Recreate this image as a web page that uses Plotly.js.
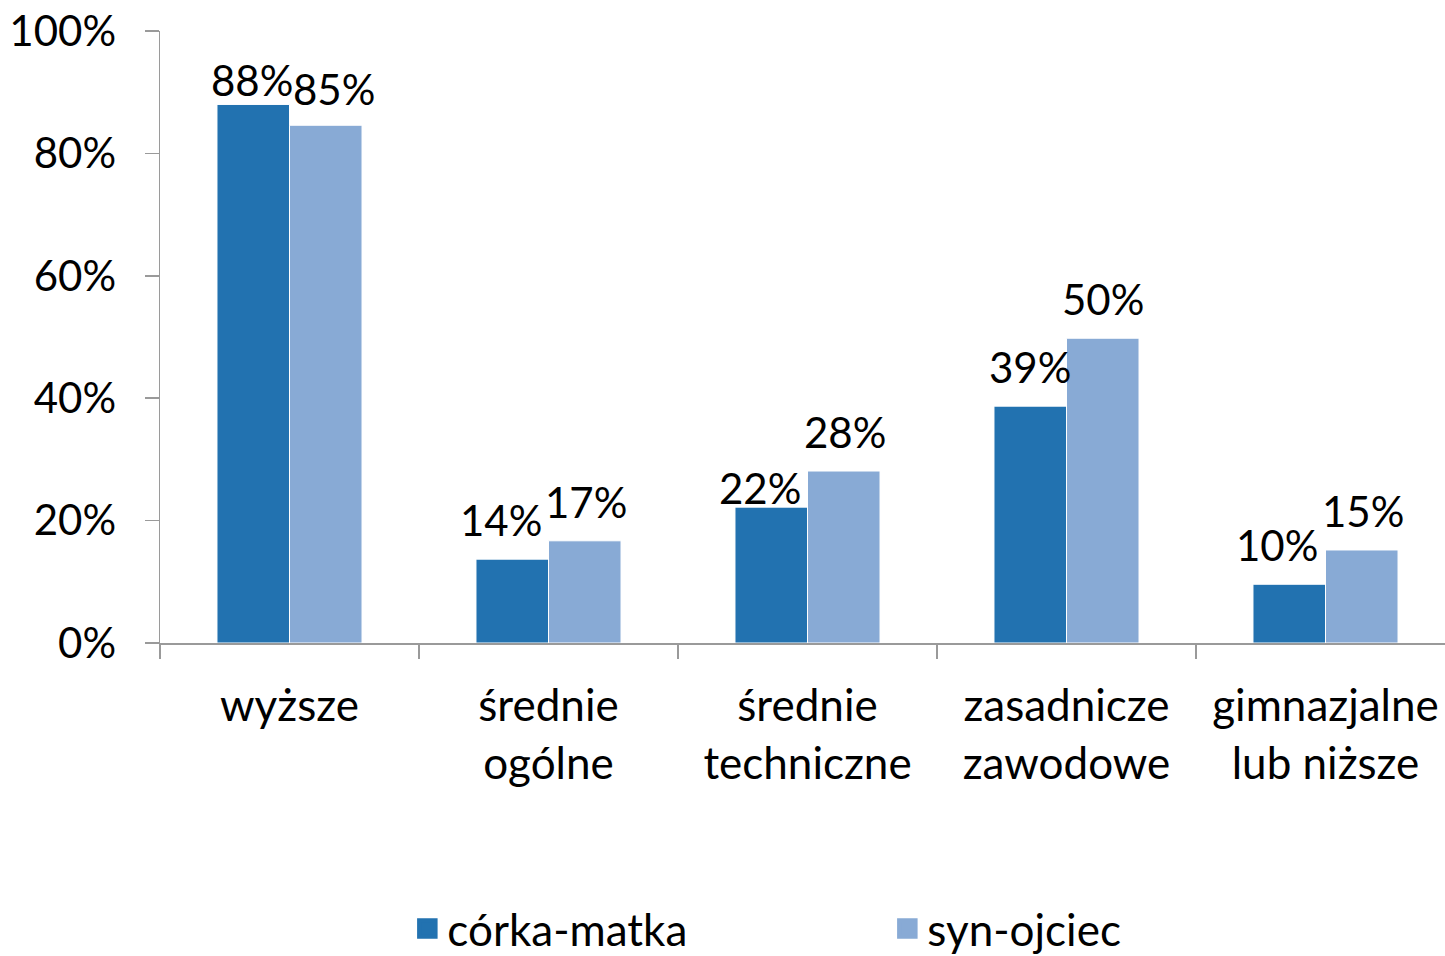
<!DOCTYPE html>
<html>
<head>
<meta charset="utf-8">
<script src="https://cdn.plot.ly/plotly-3.0.1.min.js"></script>
<style>
html,body{margin:0;padding:0;overflow:hidden;background:#ffffff;}
#chart{width:1460px;height:990px;}
</style>
</head>
<body>
<div id="chart"></div>
<script>
const categories = ["wyższe", "średnie<br>ogólne", "średnie<br>techniczne", "zasadnicze<br>zawodowe", "gimnazjalne<br>lub niższe"];
const corkaMatka = [88, 13.7, 22.2, 38.7, 9.6];
const synOjciec = [84.6, 16.7, 28.1, 49.8, 15.2];
const seriesNames = ["córka-matka", "syn-ojciec"];
const seriesColors = ["#2272B0", "#88AAD5"];
const yTickVals = [0, 20, 40, 60, 80, 100];
const yTickText = ["0%", "20%", "40%", "60%", "80%", "100%"];

// label placement style (pixel nudges that mimic the original's overlap avoidance)
const labelNudgeX = [[-2, -12, -12, -1, -13], [8, 1, 1, 0, 1]];
const labelNudgeY = [[-15, 0, -20, 0, 0], [-3, 0, 0, 0, 0]];

const FONT = "Lato, 'Open Sans', sans-serif";
const BAR_HALF_OFFSET = 36;
const LABEL_RISE = 39;

function barTrace(name, values, color) {
  return {
    type: "bar",
    name: name,
    x: categories,
    y: values,
    marker: {color: color, line: {color: "#ffffff", width: 1}},
    showlegend: false,
    hoverinfo: "skip"
  };
}

function legendTrace(name, color) {
  return {
    type: "scatter",
    mode: "markers",
    name: name,
    x: [null],
    y: [null],
    marker: {symbol: "square", size: 16, color: color, line: {color: color, width: 4.5}},
    showlegend: true,
    hoverinfo: "skip"
  };
}

const data = [
  barTrace(seriesNames[0], corkaMatka, seriesColors[0]),
  barTrace(seriesNames[1], synOjciec, seriesColors[1]),
  legendTrace(seriesNames[0], seriesColors[0]),
  legendTrace(seriesNames[1], seriesColors[1])
];

const annotations = [];
[corkaMatka, synOjciec].forEach(function (vals, s) {
  vals.forEach(function (v, j) {
    annotations.push({
      xref: "x", yref: "y",
      x: categories[j], y: v,
      text: Math.round(v) + "%",
      showarrow: false,
      xanchor: "center", yanchor: "middle",
      xshift: (s === 0 ? -BAR_HALF_OFFSET : BAR_HALF_OFFSET) + labelNudgeX[s][j],
      yshift: LABEL_RISE + labelNudgeY[s][j],
      font: {family: FONT, size: 42, color: "#000"}
    });
  });
});

const layout = {
  width: 1460,
  height: 990,
  paper_bgcolor: "#ffffff",
  plot_bgcolor: "rgba(0,0,0,0)",
  margin: {l: 160, r: 5, t: 31, b: 347, pad: 0},
  font: {family: FONT, size: 42, color: "#000"},
  barmode: "group",
  bargap: 0.44,
  bargroupgap: 0,
  showlegend: true,
  annotations: annotations,
  legend: {
    orientation: "h",
    x: 0.191, xanchor: "left",
    y: -0.409, yanchor: "top",
    font: {family: FONT, size: 44, color: "#000"},
    entrywidth: 435,
    bgcolor: "rgba(0,0,0,0)",
    traceorder: "normal",
    itemsizing: "trace"
  },
  xaxis: {
    type: "category",
    range: [-0.5, 4.5],
    showline: true,
    linecolor: "#9a9a9a",
    linewidth: 1.5,
    ticks: "outside",
    tickson: "boundaries",
    ticklen: 14,
    tickcolor: "#9a9a9a",
    tickwidth: 1.5,
    showgrid: false,
    zeroline: false,
    ticklabelstandoff: 24,
    tickfont: {family: FONT, size: 44, color: "#000"}
  },
  yaxis: {
    range: [0, 100],
    tickvals: yTickVals,
    ticktext: yTickText,
    showline: true,
    linecolor: "#9a9a9a",
    linewidth: 1.5,
    ticks: "outside",
    ticklen: 14,
    tickcolor: "#9a9a9a",
    tickwidth: 1.5,
    showgrid: false,
    zeroline: false,
    ticklabelstandoff: 20,
    tickfont: {family: FONT, size: 42, color: "#000"}
  }
};

Plotly.newPlot("chart", data, layout, {displayModeBar: false, staticPlot: true});
</script>
</body>
</html>
